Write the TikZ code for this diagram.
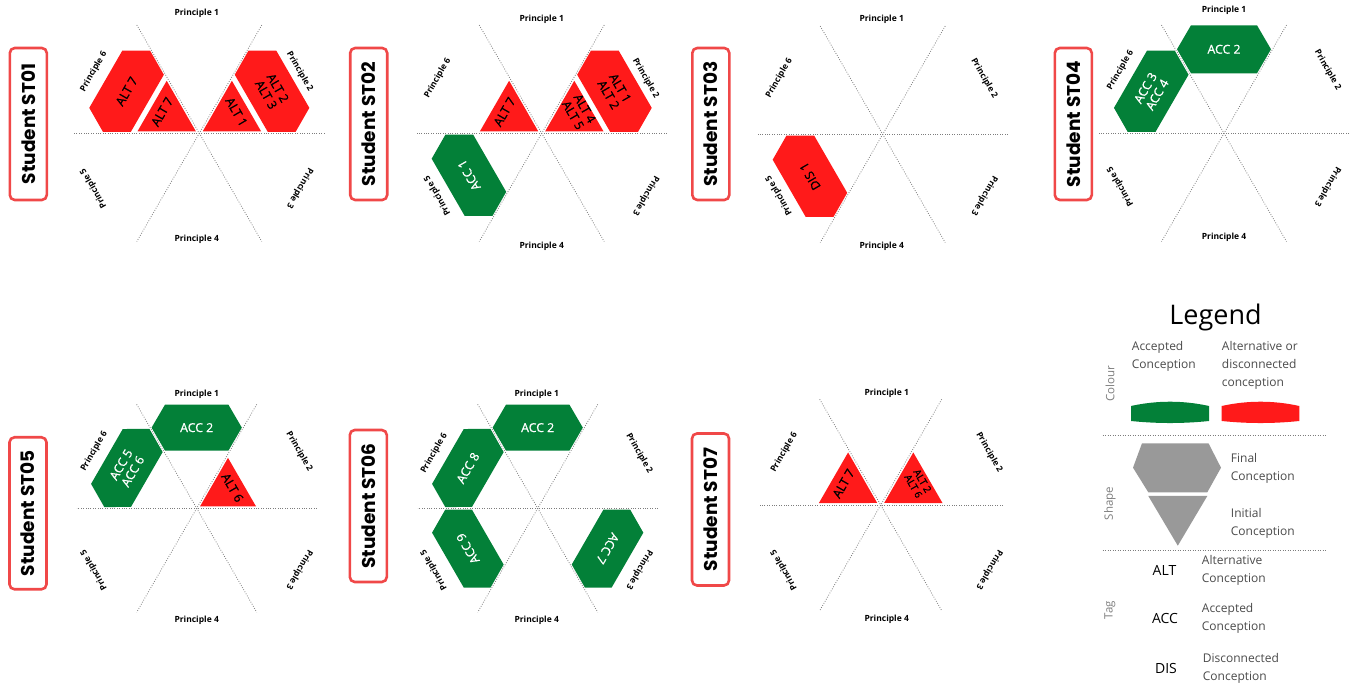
\documentclass[tikz,border=0pt]{standalone}
\usepackage{fontspec}
\setmainfont{Open Sans}
\newfontfamily\stufont{Poppins}
\newfontfamily\semifont{Open Sans}[FakeBold=0.9]
\definecolor{cred}{RGB}{255,26,26}
\definecolor{cgreen}{RGB}{3,128,56}
\definecolor{cbox}{RGB}{240,72,72}
\definecolor{cgray}{RGB}{153,153,153}
\definecolor{ctext}{RGB}{75,75,75}
\definecolor{caxis}{RGB}{125,125,125}
\tikzset{
  axisline/.style={caxis, line width=0.8pt, dash pattern=on 0.8pt off 1.6pt},
  sepline/.style={caxis, line width=0.9pt, dash pattern=on 0.9pt off 1.6pt},
  plabel/.style={font=\bfseries\fontsize{8.5}{9}\selectfont, inner sep=0pt},
  shapetext/.style={font=\semifont\fontsize{12.3}{13.5}\selectfont, align=center, inner sep=0pt},
  stubox/.style={draw=cbox, line width=2.6pt, rounded corners=5pt, fill=white,
    minimum width=152pt, minimum height=37pt, inner sep=0pt, rotate=90,
    font=\stufont\bfseries\fontsize{18.5}{18.5}\selectfont},
  legtext/.style={text=ctext, font=\fontsize{12}{18}\selectfont, align=left, anchor=west, inner sep=0pt},
  legside/.style={text=caxis, font=\fontsize{11.5}{12}\selectfont, rotate=90, inner sep=0pt},
  legtag/.style={text=black, font=\fontsize{14}{14}\selectfont, inner sep=0pt},
}
% #1 name, #2 radius, #3 x shift of labels, #4 y of P1, #5 y of P4, #6 side x, #7 upper side y, #8 lower side y
\newcommand\panelaxes[8]{%
  \coordinate (#1-a0) at (0:#2); \coordinate (#1-a180) at (180:#2);
  \coordinate (#1-a60) at (60:#2); \coordinate (#1-a240) at (240:#2);
  \coordinate (#1-a120) at (120:#2); \coordinate (#1-a300) at (300:#2);
  \draw[axisline] (#1-a0) -- (#1-a180);
  \draw[axisline] (#1-a60) -- (#1-a240);
  \draw[axisline] (#1-a120) -- (#1-a300);
  \node[plabel] (#1-p1) at (#3,#4) {Principle 1};
  \node[plabel] (#1-p4) at (#3,#5) {Principle 4};
  \node[plabel, rotate=-60] (#1-p2) at ({#3+#6},#7) {Principle 2};
  \node[plabel, rotate=-120] (#1-p3) at ({#3+#6},#8) {Principle 3};
  \node[plabel, rotate=120] (#1-p5) at ({#3-#6},#8) {Principle 5};
  \node[plabel, rotate=60] (#1-p6) at ({#3-#6},#7) {Principle 6};
}
% hexagon: [#1 text style] #2 name, #3 direction, #4 fill, #5 text colour, #6 text
\newcommand\hexa[6][]{%
  \fill[#4, rotate=#3-90] (-33,60) -- (33,60) -- (47,84) -- (33,108) -- (-33,108) -- (-47,84) -- cycle;
  \node[shapetext, text=#5, rotate=#3-90, #1] (#2) at (#3:84) {#6};
}
\newcommand\tria[6][]{%
  \fill[#4, rotate=#3-90] (0,4) -- (29.2,54.5) -- (-29.2,54.5) -- cycle;
  \node[shapetext, text=#5, rotate=#3-90, #1] (#2) at (#3:43) {#6};
}
\begin{document}
\begin{tikzpicture}[x=1pt,y=1pt]
\useasboundingbox (0,0) rectangle (1353,685);
\fill[white] (0,0) rectangle (1353,685);

% ---------- ST01
\node[stubox] (st01-box) at (28.3,561) {Student ST01};
\begin{scope}[shift={(199.3,551.7)}]
  \panelaxes{st01}{125}{-2.6}{120}{-106}{103}{61.6}{-55}
  \hexa{st01-h6}{150}{cred}{black}{ALT 7}
  \tria{st01-t6}{150}{cred}{black}{ALT 7}
  \tria{st01-t2}{30}{cred}{black}{ALT 1}
  \hexa{st01-h2}{30}{cred}{black}{ALT 2\\ALT 3}
\end{scope}

% ---------- ST02
\node[stubox] (st02-box) at (368.7,561) {Student ST02};
\begin{scope}[shift={(541.7,551.7)}]
  \panelaxes{st02}{125}{0}{114}{-112.7}{104}{55}{-62.5}
  \tria{st02-t6}{150}{cred}{black}{ALT 7}
  \tria{st02-t2}{30}{cred}{black}{ALT 4\\ALT 5}
  \hexa{st02-h2}{30}{cred}{black}{ALT 1\\ALT 2}
  \hexa{st02-h5}{210}{cgreen}{white}{ACC 1}
\end{scope}

% ---------- ST03
\node[stubox] (st03-box) at (710.8,561) {Student ST03};
\begin{scope}[shift={(882.7,550.7)}]
  \panelaxes{st03}{125}{-1}{115}{-111.7}{102.5}{56}{-61.5}
  \hexa{st03-h5}{210}{cred}{black}{DIS 1}
\end{scope}

% ---------- ST04
\node[stubox] (st04-box) at (1073.3,561) {Student ST04};
\begin{scope}[shift={(1224,551.7)}]
  \panelaxes{st04}{125}{0}{122.6}{-104}{103.5}{63.3}{-53.4}
  \hexa{st04-h1}{90}{cgreen}{white}{ACC 2}
  \hexa{st04-h6}{150}{cgreen}{white}{ACC 3\\ACC 4}
\end{scope}

% ---------- ST05
\node[stubox] (st05-box) at (28,171.7) {Student ST05};
\begin{scope}[shift={(196.7,176.7)}]
  \panelaxes{st05}{120}{0}{114.3}{-111.7}{102.5}{56.7}{-61.7}
  \begin{scope}[scale=0.96]
  \hexa{st05-h1}{90}{cgreen}{white}{ACC 2}
  \hexa{st05-h6}{150}{cgreen}{white}{ACC 5\\ACC 6}
  \tria{st05-t2}{30}{cred}{black}{ALT 6}
  \end{scope}
\end{scope}

% ---------- ST06
\node[stubox] (st06-box) at (368.3,179) {Student ST06};
\begin{scope}[shift={(537.7,176.7)}]
  \panelaxes{st06}{120}{-1}{114.3}{-111.7}{102.5}{55}{-61.7}
  \begin{scope}[scale=0.96]
  \hexa{st06-h1}{90}{cgreen}{white}{ACC 2}
  \hexa{st06-h6}{150}{cgreen}{white}{ACC 8}
  \hexa{st06-h5}{210}{cgreen}{white}{ACC 9}
  \hexa{st06-h3}{-30}{cgreen}{white}{ACC 7}
  \end{scope}
\end{scope}

% ---------- ST07
\node[stubox] (st07-box) at (710.5,175.5) {Student ST07};
\begin{scope}[shift={(880.7,180)}]
  \panelaxes{st07}{122}{6}{111.7}{-114.3}{102.5}{52.5}{-65}
  \tria{st07-t6}{150}{cred}{black}{ALT 7}
  \tria[font=\semifont\fontsize{10}{10.5}\selectfont]{st07-t2}{30}{cred}{black}{ALT 2\\ALT 6}
\end{scope}

% ---------- Legend
\node[font=\fontsize{27}{27}\selectfont, inner sep=0pt] (leg-title) at (1215.5,367.5) {Legend};
\node[legtext] (leg-acc) at (1131.7,328.3) {Accepted\\Conception};
\node[legtext] (leg-alt) at (1221.7,319.3) {Alternative or\\disconnected\\conception};
\node[legside] (leg-colour) at (1110,301.3) {Colour};
\fill[cgreen] (1131,264) -- (1131,279) .. controls (1157,284.7) and (1183,284.7) .. (1209,279)
  -- (1209,264) .. controls (1183,261.3) and (1157,261.3) .. (1131,264) -- cycle;
\fill[cred] (1221.7,264) -- (1221.7,279) .. controls (1247.5,284.7) and (1273.5,284.7) .. (1299.3,279)
  -- (1299.3,264) .. controls (1273.5,261.3) and (1247.5,261.3) .. (1221.7,264) -- cycle;
\coordinate (sep1a) at (1102.7,249.3); \coordinate (sep1b) at (1327.3,249.3);
\draw[sepline] (sep1a) -- (sep1b);
\fill[cgray] (1142,241.7) -- (1208.5,241.7) -- (1221,217.3) -- (1207.3,192.7) -- (1148.3,192.7) -- (1133,217.3) -- cycle;
\fill[cgray] (1148.3,189) -- (1207.3,189) -- (1177.8,139.3) -- cycle;
\node[legtext] (leg-final) at (1230.7,216.7) {Final\\Conception};
\node[legtext] (leg-init) at (1230.7,162) {Initial\\Conception};
\node[legside] (leg-shape) at (1110,181.5) {Shape};
\coordinate (sep2a) at (1102.7,135); \coordinate (sep2b) at (1327.3,135);
\draw[sepline] (sep2a) -- (sep2b);
\node[legtag] (leg-tALT) at (1164.5,114.2) {ALT};
\node[legtext] (leg-dALT) at (1201.7,114.5) {Alternative\\Conception};
\node[legtag] (leg-tACC) at (1165,66.7) {ACC};
\node[legtext] (leg-dACC) at (1201.7,66.7) {Accepted\\Conception};
\node[legtag] (leg-tDIS) at (1166,16.7) {DIS};
\node[legtext] (leg-dDIS) at (1202.7,16.7) {Disconnected\\Conception};
\node[legside] (leg-tag) at (1110,75) {Tag};
\end{tikzpicture}
\end{document}
